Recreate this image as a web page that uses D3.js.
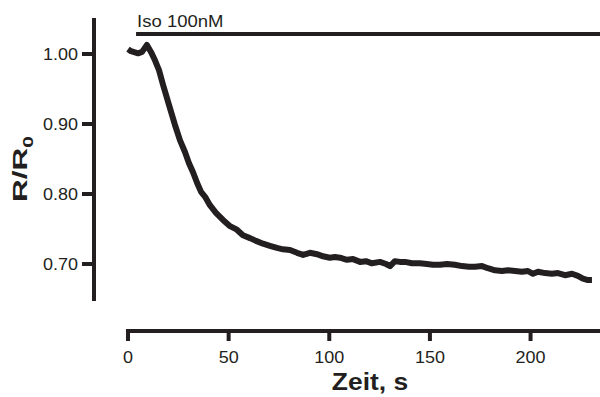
<!DOCTYPE html>
<html><head><meta charset="utf-8">
<script src="https://cdn.jsdelivr.net/npm/d3@7"></script>
<style>body{margin:0;background:#fff}svg{display:block}text{font-family:"Liberation Sans",Arial,sans-serif;fill:#231f20}</style>
</head><body><svg id="c" width="600" height="397"></svg>
<script>
const times = [0,1.5,5,7,9.4,11.4,13.4,15.4,17.4,20.4,23.3,25.8,28.3,30.3,32.3,34.3,36.3,38.3,40.7,43.7,47.2,50.7,54.1,57.1,60.6,63.6,67.1,70.5,74,77,80.5,84,87,90.4,93.9,96.9,100.3,102.8,105.3,108.8,111.8,115.3,118.2,121.2,125.2,128.2,130.2,132.6,135.1,137.6,141.1,145,148.5,151.5,155,158.5,162.4,166,169.4,172.4,175.9,178.8,182.3,185.8,188.8,192.3,195.7,198.7,201.2,203.7,207.2,210.6,213.6,217.1,220.6,223.5,226,228.5,230.5];
const ratio = [1.007,1.004,1.001,1.003,1.013,1.003,0.991,0.977,0.956,0.927,0.899,0.877,0.86,0.844,0.831,0.816,0.803,0.796,0.784,0.773,0.763,0.754,0.749,0.741,0.737,0.733,0.729,0.726,0.723,0.721,0.72,0.716,0.713,0.716,0.714,0.711,0.709,0.71,0.709,0.706,0.707,0.703,0.704,0.701,0.703,0.70,0.697,0.704,0.703,0.703,0.701,0.701,0.70,0.699,0.699,0.70,0.699,0.697,0.696,0.696,0.697,0.694,0.691,0.69,0.691,0.69,0.689,0.69,0.686,0.689,0.687,0.686,0.687,0.684,0.686,0.683,0.679,0.677,0.677];
const xTicks = [0,50,100,150,200];
const yTicks = [0.70,0.80,0.90,1.00];
const drugLabel = "Iso 100nM";
const drugStart = 4;
const xTitle = "Zeit, s";

const ink = "#231f20";
const svg = d3.select("#c");
const x = d3.scaleLinear().domain([0,234.5]).range([128,600]);
const y = d3.scaleLinear().domain([0.70,1.00]).range([264,54]);

// y axis
const ya = svg.append("g").attr("transform","translate(94,0)");
ya.append("line").attr("x1",0).attr("x2",0).attr("y1",18).attr("y2",301).attr("stroke",ink).attr("stroke-width",4);
const yt = ya.selectAll("g.t").data(yTicks).enter().append("g").attr("transform",d=>`translate(0,${y(d)})`);
yt.append("line").attr("x1",-12).attr("x2",0).attr("stroke",ink).attr("stroke-width",4);
yt.append("text").attr("transform","translate(-16,0) scale(1.06,1)").attr("dy","0.36em").attr("text-anchor","end").attr("font-size",17).text(d=>d3.format(".2f")(d));

// x axis
const xa = svg.append("g").attr("transform","translate(0,331)");
xa.append("line").attr("x1",x(0)-2).attr("x2",600).attr("y1",0).attr("y2",0).attr("stroke",ink).attr("stroke-width",4);
const xt = xa.selectAll("g.t").data(xTicks).enter().append("g").attr("transform",d=>`translate(${x(d)},0)`);
xt.append("line").attr("y1",0).attr("y2",10).attr("stroke",ink).attr("stroke-width",4);
xt.append("text").attr("transform","translate(0,32) scale(1.06,1)").attr("text-anchor","middle").attr("font-size",17).text(d=>d);

// titles
svg.append("text").attr("transform","translate(370,390) scale(1.1,1)").attr("text-anchor","middle").attr("font-size",24).attr("font-weight","bold").text(xTitle);
const yl = svg.append("text").attr("transform","translate(27,169) rotate(-90) scale(1.5,1)").attr("text-anchor","middle").attr("font-size",21).attr("font-weight","bold");
yl.append("tspan").text("R/R");
yl.append("tspan").attr("font-size",14).attr("dy",6).text("0");

// drug bar
svg.append("line").attr("x1",x(drugStart)).attr("x2",600).attr("y1",34).attr("y2",34).attr("stroke",ink).attr("stroke-width",4);
svg.append("text").attr("transform",`translate(${x(drugStart)+1},27) scale(1.09,1)`).attr("font-size",17).text(drugLabel);

// trace
const data = times.map((t,i)=>[t,ratio[i]]);
svg.append("path").datum(data).attr("fill","none").attr("stroke",ink).attr("stroke-width",6).attr("stroke-linejoin","round")
  .attr("d",d3.line().x(d=>x(d[0])).y(d=>y(d[1])));
</script></body></html>
